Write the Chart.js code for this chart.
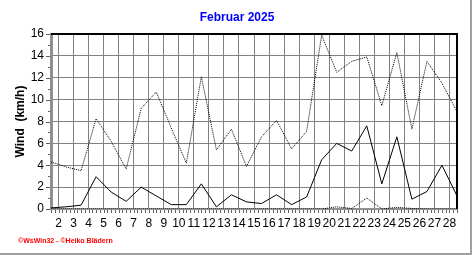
<!DOCTYPE html>
<html>
<head>
<meta charset="utf-8">
<script src="https://cdn.jsdelivr.net/npm/chart.js@4/dist/chart.umd.min.js"></script>
<style>
  html, body { margin: 0; padding: 0; background: #ffffff; }
  #wrap { position: relative; width: 472px; height: 255px; }
</style>
</head>
<body>
<div id="wrap"><canvas id="c" width="472" height="255"></canvas></div>
<script>
// ---- data ----
const chartTitle = 'Februar 2025';
const yAxisTitle = 'Wind  (km/h)';
const footerText = '\u00A9WsWin32 - \u00A9Heiko Bl\u00E4dern';
const days = [1,2,3,4,5,6,7,8,9,10,11,12,13,14,15,16,17,18,19,20,21,22,23,24,25,26,27,28];
const xTickValues = [2,3,4,5,6,7,8,9,10,11,12,13,14,15,16,17,18,19,20,21,22,23,24,25,26,27,28];
const xTickLabels = ['2','3','4','5','6','7','8','9','10','11','12','13','14','15','16','17','18','19','20','21','22','23','24','25','26','27','28'];
const yTickValues = [0,2,4,6,8,10,12,14,16];
const gust = [4.3,3.85,3.5,8.25,6.2,3.65,9.2,10.7,7.4,4.2,12.1,5.4,7.3,3.9,6.6,8.1,5.5,7.1,15.9,12.5,13.5,13.9,9.45,14.3,7.3,13.5,11.5,8.9];
const meanWind = [0.1,0.2,0.35,2.95,1.55,0.7,2.0,1.2,0.4,0.4,2.3,0.2,1.3,0.65,0.5,1.3,0.4,1.1,4.5,6.0,5.3,7.6,2.3,6.6,0.9,1.6,4.0,1.2];
const lowWind = [0,0,0,0,0,0,0,0,0,0,0,0,0,0,0,0,0,0,0,0.2,0.05,1.0,0,0.15,0.05,0,0,0];

// daily values are plotted at mid-day
const toPoints = arr => days.map((d, i) => ({ x: d + 0.5, y: arr[i] }));

const decorPlugin = {
  id: 'decor',
  beforeDatasetsDraw(chart) {
    const ctx = chart.ctx, a = chart.chartArea;
    const xs = chart.scales.x, ys = chart.scales.y;
    ctx.save();
    // minor ticks on x axis (every 6 h)
    ctx.strokeStyle = '#606060';
    ctx.lineWidth = 1;
    ctx.beginPath();
    for (let v = 1.5; v <= 28.5001; v += 0.25) {
      const px = Math.round(xs.getPixelForValue(v)) + 0.5;
      ctx.moveTo(px, a.bottom + 1);
      ctx.lineTo(px, a.bottom + 4);
    }
    // ticks on y axis
    for (let v = 0; v <= 16.0001; v += 1) {
      const py = Math.round(ys.getPixelForValue(v)) + 0.5;
      const len = (v % 2 === 0) ? 4 : 2;
      ctx.moveTo(a.left - 1, py);
      ctx.lineTo(a.left - 1 - len, py);
    }
    ctx.stroke();
    // top and right frame
    ctx.strokeStyle = '#000000';
    ctx.lineWidth = 2;
    ctx.beginPath();
    ctx.moveTo(a.left, a.top);
    ctx.lineTo(a.right, a.top);
    ctx.lineTo(a.right, a.bottom);
    ctx.stroke();
    ctx.restore();
  },
  afterDraw(chart) {
    const ctx = chart.ctx, a = chart.chartArea;
    ctx.save();
    // title
    ctx.fillStyle = '#0000FF';
    ctx.font = 'bold 12px "Liberation Sans", Arial, sans-serif';
    ctx.textAlign = 'center';
    ctx.textBaseline = 'middle';
    ctx.fillText(chartTitle, 237, 18);
    // y axis title
    ctx.fillStyle = '#000000';
    ctx.font = 'bold 12px "Liberation Sans", Arial, sans-serif';
    ctx.translate(21, (a.top + a.bottom) / 2);
    ctx.rotate(-Math.PI / 2);
    ctx.fillText(yAxisTitle, 0, 0);
    ctx.setTransform(1, 0, 0, 1, 0, 0);
    // footer
    ctx.fillStyle = '#FF0000';
    ctx.font = 'bold 7px "Liberation Sans", Arial, sans-serif';
    ctx.textAlign = 'left';
    ctx.fillText(footerText, 18, 241);
    // outer frame (right & bottom)
    ctx.strokeStyle = '#a0a0a0';
    ctx.lineWidth = 2;
    ctx.beginPath();
    ctx.moveTo(471, 0);
    ctx.lineTo(471, 254);
    ctx.lineTo(0, 254);
    ctx.stroke();
    ctx.restore();
  }
};

new Chart(document.getElementById('c'), {
  type: 'line',
  data: {
    datasets: [
      { label: 'Böe', data: toPoints(gust), borderColor: '#000000', borderWidth: 1, borderDash: [1, 1], pointRadius: 0, fill: false, tension: 0 },
      { label: 'Mittel', data: toPoints(meanWind), borderColor: '#000000', borderWidth: 1, pointRadius: 0, fill: false, tension: 0 },
      { label: 'Min', data: toPoints(lowWind), borderColor: '#000000', borderWidth: 1, borderDash: [1, 1], pointRadius: 0, fill: false, tension: 0 }
    ]
  },
  options: {
    responsive: false,
    animation: false,
    devicePixelRatio: 1,
    layout: { padding: { left: 0, top: 34, right: 15, bottom: 0 } },
    plugins: { legend: { display: false }, title: { display: false }, tooltip: { enabled: false } },
    scales: {
      x: {
        type: 'linear',
        min: 1.5,
        max: 28.5,
        afterBuildTicks: s => { s.ticks = xTickValues.map(v => ({ value: v })); },
        afterFit: s => { s.height = 46; },
        ticks: {
          autoSkip: false,
          maxRotation: 0,
          padding: 7,
          color: '#000000',
          font: { family: '"Liberation Sans", Arial, sans-serif', size: 12 },
          callback: (v) => { const i = xTickValues.indexOf(v); return i >= 0 ? xTickLabels[i] : ''; }
        },
        grid: { color: '#808080', lineWidth: 1, borderDash: [4, 3], drawTicks: false },
        border: { display: true, color: '#909090', width: 2 }
      },
      y: {
        min: 0,
        max: 16,
        afterBuildTicks: s => { s.ticks = yTickValues.map(v => ({ value: v })); },
        afterFit: s => { s.width = 51; },
        ticks: {
          padding: 7,
          color: '#000000',
          font: { family: '"Liberation Sans", Arial, sans-serif', size: 12 }
        },
        grid: { color: '#808080', lineWidth: 1, borderDash: [4, 3], drawTicks: false },
        border: { display: true, color: '#909090', width: 3 }
      }
    }
  },
  plugins: [decorPlugin]
});
</script>
</body>
</html>
